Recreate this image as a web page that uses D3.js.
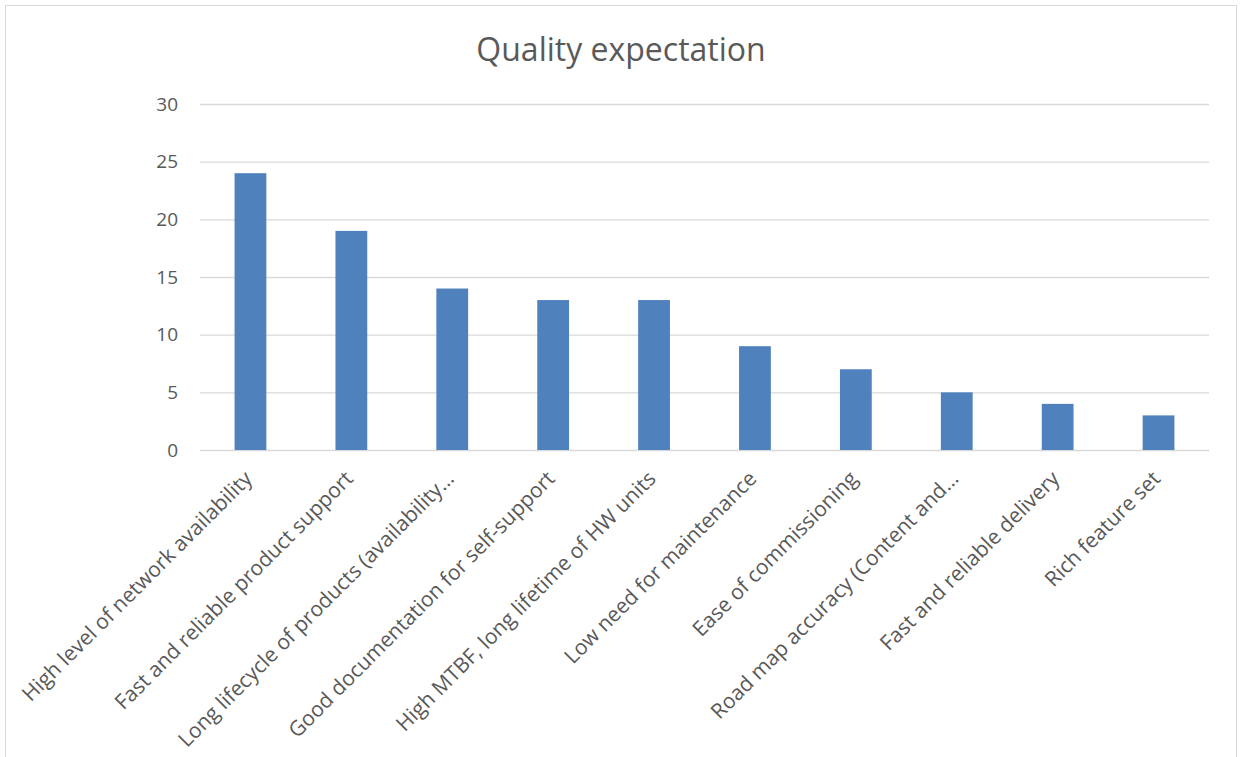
<!DOCTYPE html>
<html>
<head>
<meta charset="utf-8">
<script src="https://cdn.jsdelivr.net/npm/d3@7"></script>
<style>
  body { margin: 0; background: #fff; }
  text { font-family: "Open Sans", Lato, sans-serif; fill: #595959; }
</style>
</head>
<body>
<div id="chart"></div>
<script>
// 데이터
const categories = [
    'High level of network availability',
    'Fast and reliable product support',
    'Long lifecycle of products (availability\u2026',
    'Good documentation for self-support',
    'High MTBF, long lifetime of HW units',
    'Low need for maintenance',
    'Ease of commissioning',
    'Road map accuracy (Content and\u2026',
    'Fast and reliable delivery',
    'Rich feature set'
];
const values = [24, 19, 14, 13, 13, 9, 7, 5, 4, 3];
const yTicks = [0, 5, 10, 15, 20, 25, 30];

const width = 1241, height = 757;
const margin = { left: 200, right: 32, top: 104, bottom: 307 };

const svg = d3.select('#chart')
    .append('svg')
    .attr('width', width)
    .attr('height', height);

// 테두리
svg.append('rect')
    .attr('x', 5.5).attr('y', 5.5)
    .attr('width', 1231).attr('height', 770)
    .attr('fill', 'none')
    .attr('stroke', '#d9d9d9');

svg.append('text')
    .attr('x', 621).attr('y', 61)
    .attr('text-anchor', 'middle')
    .style('font-size', '32px')
    .text('Quality expectation');

const x = d3.scaleBand()
    .domain(categories)
    .range([margin.left, width - margin.right])
    .paddingInner(0.685)
    .paddingOuter(0.3425);

const y = d3.scaleLinear()
    .domain([0, 30])
    .range([height - margin.bottom, margin.top]);

// 눈금선
const yAxis = svg.append('g')
    .attr('transform', `translate(${margin.left},0)`)
    .call(d3.axisLeft(y).tickValues(yTicks).tickSize(-(width - margin.left - margin.right)).tickPadding(22));
yAxis.select('.domain').remove();
yAxis.selectAll('line').attr('stroke', '#d9d9d9').attr('stroke-width', 1.3);
yAxis.selectAll('text').style('font-size', '19px').attr('fill', '#595959');

svg.selectAll('rect.bar')
    .data(values)
    .join('rect')
    .attr('class', 'bar')
    .attr('x', (d, i) => x(categories[i]))
    .attr('y', d => y(d))
    .attr('width', x.bandwidth())
    .attr('height', d => y(0) - y(d))
    .attr('fill', '#4f81bd');

// x축 라벨 (-45도)
const xAxis = svg.append('g')
    .attr('transform', `translate(0,${y(0)})`)
    .call(d3.axisBottom(x).tickSize(0).tickPadding(0));
xAxis.select('.domain').remove();
xAxis.selectAll('text')
    .attr('text-anchor', 'end')
    .attr('dy', null)
    .attr('y', 0)
    .attr('transform', 'translate(3,30) rotate(-45)')
    .style('font-size', '21px')
    .attr('fill', '#595959');
</script>
</body>
</html>
